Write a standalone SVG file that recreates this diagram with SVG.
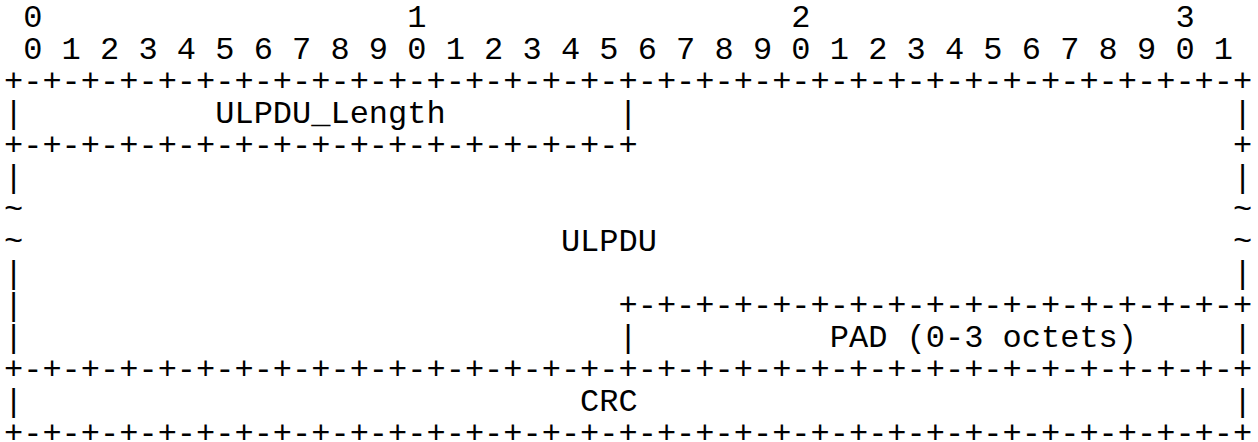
<svg xmlns="http://www.w3.org/2000/svg" width="1258" height="442" viewBox="0 0 1258 442">
<style>
text{font-family:"Liberation Mono","Courier New",monospace;font-size:32px;fill:#000;white-space:pre}
</style>
<rect width="1258" height="442" fill="#fff"/>
<g id="ascii" xml:space="preserve">
<text x="4" y="27"> 0                   1                   2                   3</text>
<text x="4" y="59"> 0 1 2 3 4 5 6 7 8 9 0 1 2 3 4 5 6 7 8 9 0 1 2 3 4 5 6 7 8 9 0 1</text>
<text x="4" y="91">+-+-+-+-+-+-+-+-+-+-+-+-+-+-+-+-+-+-+-+-+-+-+-+-+-+-+-+-+-+-+-+-+</text>
<text x="4" y="123">|          ULPDU_Length         |                               |</text>
<text x="4" y="155">+-+-+-+-+-+-+-+-+-+-+-+-+-+-+-+-+                               +</text>
<text x="4" y="187">|                                                               |</text>
<text x="4" y="219">~                                                               ~</text>
<text x="4" y="251">~                            ULPDU                              ~</text>
<text x="4" y="283">|                                                               |</text>
<text x="4" y="315">|                               +-+-+-+-+-+-+-+-+-+-+-+-+-+-+-+-+</text>
<text x="4" y="347">|                               |          PAD (0-3 octets)     |</text>
<text x="4" y="379">+-+-+-+-+-+-+-+-+-+-+-+-+-+-+-+-+-+-+-+-+-+-+-+-+-+-+-+-+-+-+-+-+</text>
<text x="4" y="411">|                             CRC                               |</text>
<text x="4" y="443">+-+-+-+-+-+-+-+-+-+-+-+-+-+-+-+-+-+-+-+-+-+-+-+-+-+-+-+-+-+-+-+-+</text>
</g>
</svg>
